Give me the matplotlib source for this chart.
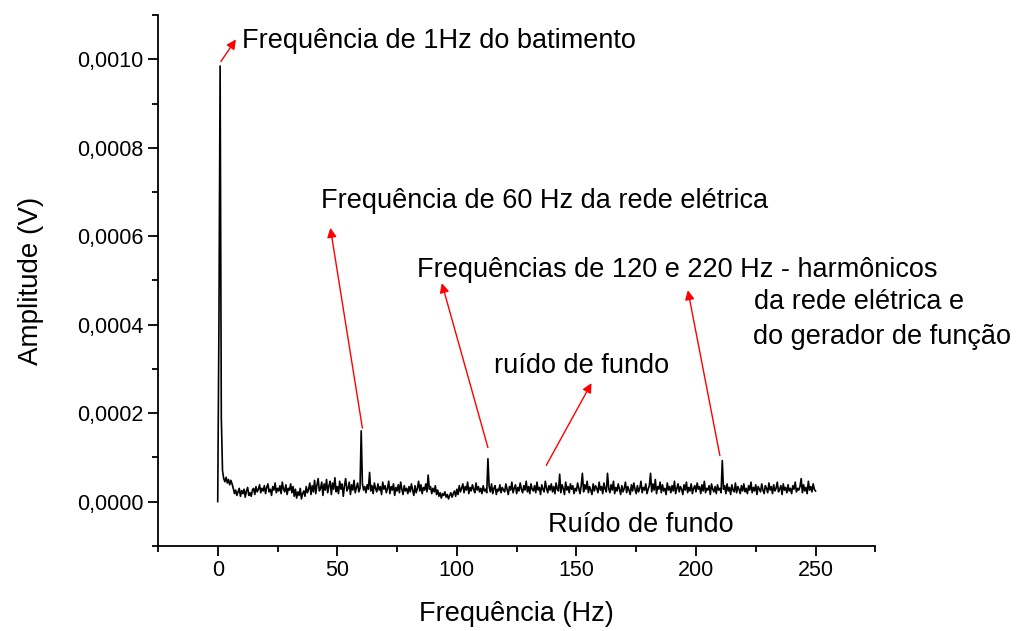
import numpy as np
import matplotlib
matplotlib.use("Agg")
import matplotlib.pyplot as plt
from matplotlib.ticker import MultipleLocator, FuncFormatter

plt.rcParams['font.family'] = ['Liberation Sans', 'DejaVu Sans']

# amplitude spectrum, 0.5 Hz steps from 0 to 250 Hz, values in microvolts
amp_uv = [
    0, 400, 985, 190, 70, 52, 45, 55, 42, 50, 38, 48, 40, 30, 18, 26, 14, 22, 30, 12,       # 0-9.5
    25, 18, 28, 10, 24, 32, 14, 20, 12, 26, 30, 16, 34, 22, 28, 38, 20, 30, 24, 36,         # 10-19.5
    18, 32, 40, 22, 28, 14, 34, 26, 42, 20, 30, 24, 36, 18, 44, 28, 22, 38, 16, 30,         # 20-29.5
    26, 40, 20, 34, 12, 28, 8, 22, 14, 30, 6, 18, 24, 12, 34, 20, 28, 42, 16, 36,           # 30-39.5
    22, 48, 18, 38, 52, 24, 30, 44, 14, 40, 26, 50, 20, 36, 46, 16, 42, 28, 54, 22,         # 40-49.5
    34, 18, 46, 28, 40, 12, 36, 52, 24, 30, 44, 16, 38, 26, 48, 20, 32, 42, 22, 30,         # 50-59.5
    160, 40, 26, 34, 20, 38, 28, 66, 24, 36, 18, 42, 30, 22, 40, 26, 34, 16, 44, 28,        # 60-69.5
    36, 20, 30, 46, 18, 34, 26, 40, 14, 32, 24, 38, 20, 44, 28, 16, 36, 24, 30, 18,         # 70-79.5
    34, 22, 40, 26, 14, 36, 20, 30, 46, 24, 38, 18, 32, 26, 40, 22, 60, 28, 34, 18,         # 80-89.5
    30, 22, 36, 16, 26, 12, 20, 8, 18, 14, 22, 10, 16, 6, 14, 20, 10, 18, 24, 12,           # 90-99.5
    28, 16, 36, 22, 30, 40, 20, 34, 26, 44, 18, 32, 24, 38, 28, 20, 42, 26, 34, 22,         # 100-109.5
    30, 18, 36, 24, 28, 20, 97, 34, 22, 40, 18, 30, 36, 16, 28, 24, 38, 20, 32, 26,         # 110-119.5
    22, 40, 28, 16, 34, 26, 44, 20, 30, 38, 18, 32, 24, 42, 28, 20, 36, 26, 46, 22,         # 120-129.5
    34, 18, 40, 28, 24, 36, 20, 44, 26, 32, 16, 38, 28, 22, 46, 30, 20, 36, 26, 40,         # 130-139.5
    22, 34, 18, 42, 28, 24, 62, 20, 38, 30, 16, 44, 26, 34, 20, 40, 28, 36, 18, 30,         # 140-149.5
    24, 42, 30, 18, 36, 64, 22, 38, 28, 46, 20, 34, 26, 16, 40, 24, 36, 30, 20, 44,         # 150-159.5
    26, 34, 18, 42, 28, 22, 64, 30, 20, 38, 26, 46, 18, 32, 24, 40, 28, 16, 36, 22,         # 160-169.5
    30, 44, 20, 34, 26, 16, 38, 24, 42, 28, 18, 36, 22, 30, 46, 20, 32, 26, 40, 18,         # 170-179.5
    28, 36, 64, 22, 40, 26, 50, 18, 34, 28, 44, 20, 38, 24, 30, 16, 42, 26, 34, 20,         # 180-189.5
    36, 24, 46, 18, 30, 40, 22, 34, 28, 16, 38, 26, 44, 20, 32, 24, 40, 18, 30, 36,         # 190-199.5
    22, 42, 28, 34, 18, 38, 24, 46, 20, 30, 26, 36, 16, 40, 28, 22, 34, 18, 38, 26,         # 200-209.5
    30, 20, 93, 28, 36, 18, 40, 24, 32, 16, 38, 26, 22, 42, 20, 34, 28, 18, 36, 24,         # 210-219.5
    40, 22, 30, 18, 36, 26, 44, 20, 32, 24, 38, 16, 34, 28, 22, 40, 26, 18, 36, 30,         # 220-229.5
    20, 42, 26, 34, 18, 38, 24, 30, 44, 22, 28, 36, 16, 40, 26, 32, 20, 38, 24, 30,         # 230-239.5
    18, 36, 28, 44, 22, 30, 26, 34, 52, 20, 38, 24, 32, 18, 46, 26, 34, 22, 40, 28,         # 240-249.5
    24,                                                                                     # 250
]
freq = np.arange(len(amp_uv)) * 0.5
amp = np.array(amp_uv) * 1e-6

fig = plt.figure(figsize=(10.19, 6.31), dpi=100)
ax = fig.add_axes([0.155, 0.135, 0.704, 0.841])
ax.plot(freq, amp, color='black', lw=1.2)

ax.set_xlim(-25, 275)
ax.set_ylim(-0.0001, 0.0011)
ax.spines['top'].set_visible(False)
ax.spines['right'].set_visible(False)
ax.spines['left'].set_linewidth(1.3)
ax.spines['bottom'].set_linewidth(1.3)

ax.xaxis.set_major_locator(MultipleLocator(50))
ax.xaxis.set_minor_locator(MultipleLocator(25))
ax.yaxis.set_major_locator(MultipleLocator(0.0002))
ax.yaxis.set_minor_locator(MultipleLocator(0.0001))
ax.yaxis.set_major_formatter(FuncFormatter(lambda v, p: ('%.4f' % v).replace('.', ',').replace('-0,0000', '0,0000')))
ax.tick_params(which='major', direction='out', length=7, width=1.3, labelsize=15.5)
ax.tick_params(which='minor', direction='out', length=4, width=1.3)

ax.set_xlabel('Frequência (Hz)', fontsize=19.5, labelpad=14)
ax.set_ylabel('Amplitude (V)', fontsize=20, labelpad=24)

arrow = dict(arrowstyle='-|>', color='red', lw=1.0, mutation_scale=14, shrinkA=0, shrinkB=0)
ax.annotate('', xy=(7.6, 0.001045), xytext=(1.3, 0.000995), arrowprops=arrow)
ax.annotate('', xy=(47.1, 0.000619), xytext=(60.5, 0.000166), arrowprops=arrow)
ax.annotate('', xy=(93.7, 0.000494), xytext=(113, 0.000122), arrowprops=arrow)
ax.annotate('', xy=(196.6, 0.000478), xytext=(210, 0.000104), arrowprops=arrow)
ax.annotate('', xy=(156.3, 0.000268), xytext=(137.4, 0.000082), arrowprops=arrow)

fs = 19.5
ax.text(10.1, 0.001041, 'Frequência de 1Hz do batimento', fontsize=fs, va='center')
ax.text(43.3, 0.00068, 'Frequência de 60 Hz da rede elétrica', fontsize=fs, va='center')
ax.text(83.2, 0.000524, 'Frequências de 120 e 220 Hz - harmônicos', fontsize=fs, va='center')
ax.text(224.4, 0.000451, 'da rede elétrica e', fontsize=fs, va='center')
ax.text(224.0, 0.000372, 'do gerador de função', fontsize=fs, va='center')
ax.text(115.5, 0.000306, 'ruído de fundo', fontsize=fs, va='center')
ax.text(138.2, -0.000052, 'Ruído de fundo', fontsize=fs, va='center')

fig.savefig('out.png', dpi=100)
